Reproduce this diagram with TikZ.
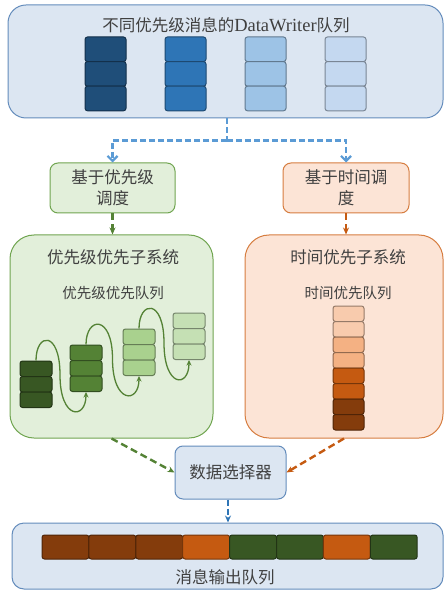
\documentclass[tikz,border=0pt]{standalone}
\usepackage{fontspec}
\setmainfont{Liberation Serif}
\newfontfamily\cjk{Noto Sans CJK SC}
\usetikzlibrary{arrows.meta,calc}
\definecolor{txt}{RGB}{64,64,64}
\definecolor{bfill}{RGB}{220,230,242}
\definecolor{bline}{RGB}{100,140,188}
\definecolor{gfill}{RGB}{226,239,218}
\definecolor{gline}{RGB}{112,165,80}
\definecolor{ofill}{RGB}{252,228,214}
\definecolor{oline}{RGB}{214,125,64}
\definecolor{navy}{RGB}{31,78,121}
\definecolor{blue2}{RGB}{46,117,182}
\definecolor{lb1}{RGB}{157,195,230}
\definecolor{lb2}{RGB}{196,216,240}
\definecolor{gd}{RGB}{56,87,35}
\definecolor{gm}{RGB}{84,130,53}
\definecolor{gl1}{RGB}{169,209,142}
\definecolor{gl2}{RGB}{197,224,180}
\definecolor{od}{RGB}{132,60,12}
\definecolor{om}{RGB}{197,90,17}
\definecolor{ol1}{RGB}{244,177,131}
\definecolor{ol2}{RGB}{248,203,173}
\definecolor{bdash}{RGB}{91,155,213}
\definecolor{bdark}{RGB}{46,117,182}
\definecolor{gdash}{RGB}{84,130,53}
\definecolor{odash}{RGB}{197,90,17}
\tikzset{
  panel/.style={line width=1pt},
  bluepanel/.style={panel, fill=bfill, draw=bline},
  greenpanel/.style={panel, fill=gfill, draw=gline},
  orangepanel/.style={panel, fill=ofill, draw=oline},
  bigtxt/.style={font=\cjk\fontsize{16.5}{21}\selectfont, text=txt, inner sep=0pt},
  smalltxt/.style={font=\cjk\fontsize{14.5}{18}\selectfont, text=txt, inner sep=0pt},
  cell/.style={rounded corners=2.5pt, line width=1pt, inner sep=0pt},
  wave/.style={draw=gm, line width=1.3pt, -{Stealth[length=5.5pt,width=5pt]}},
  bluedash/.style={draw=bdash, line width=2.2pt, dash pattern=on 6pt off 3pt},
  gdashline/.style={draw=gdash, line width=2.4pt, dash pattern=on 7pt off 4pt, -{Stealth[length=7pt,width=6pt]}},
  odashline/.style={draw=odash, line width=2.4pt, dash pattern=on 7pt off 4pt, -{Stealth[length=7pt,width=6pt]}},
}
\begin{document}
\begin{tikzpicture}[x=1pt,y=-1pt]
\useasboundingbox (0,0) rectangle (444,593);

% top panel
\node[bluepanel, rounded corners=18pt, minimum width=435pt, minimum height=113pt] (top) at (225.5,61.5) {};
\node[bigtxt] (toptitle) at (226,25) {不同优先级消息的{\rmfamily\fontsize{18.5}{21}\selectfont DataWriter}队列};
\foreach \c [count=\i] in {navy,blue2,lb1,lb2} {
  \foreach \r in {1,2,3} {
    \node[cell, fill=\c, draw=\c!62!black, minimum width=41pt, minimum height=24.6pt] (t\i\r) at ({105.5+80*(\i-1)}, {49.3+24.6*(\r-1)}) {};
  }
}

% scheduling boxes
\node[greenpanel, rounded corners=8pt, minimum width=125pt, minimum height=50pt] (gsched) at (112.5,188) {};
\node[bigtxt, align=center] (gschedt) at (gsched) {基于优先级\\调度};
\node[orangepanel, rounded corners=8pt, minimum width=126pt, minimum height=50pt] (osched) at (346,188) {};
\node[bigtxt, align=center] (oschedt) at (osched) {基于时间调\\度};

% top split connector
\coordinate (split) at ($(top.south)+(1.5,22)$);
\draw[bluedash] (top.south -| split) -- (split);
\draw[bluedash, -{Straight Barb[length=5pt,width=10pt]}] (split) -| (gsched.north);
\draw[bluedash, -{Straight Barb[length=5pt,width=10pt]}] (split) -| (osched.north);

% big subsystem boxes
\node[greenpanel, rounded corners=24pt, minimum width=203pt, minimum height=203pt] (gbox) at (111.5,336.5) {};
\node[bigtxt] (gboxt) at (113,257) {优先级优先子系统};
\node[smalltxt] (gboxs) at (113,293) {优先级优先队列};
\node[orangepanel, rounded corners=24pt, minimum width=198pt, minimum height=203pt] (obox) at (344,336.5) {};
\node[bigtxt] (oboxt) at (348,257) {时间优先子系统};
\node[smalltxt] (oboxs) at (348,293) {时间优先队列};

\draw[gdashline] (gsched.south) -- (gsched.south |- gbox.north);
\draw[odashline] (osched.south) -- (osched.south |- obox.north);

% green priority stacks
\foreach \c/\x/\t [count=\i] in {gd/36/361, gm/86/345, gl1/139/329, gl2/189/313} {
  \foreach \r in {1,2,3} {
    \node[cell, fill=\c, draw=\c!60!black, minimum width=32pt, minimum height=15.5pt] (g\i\r) at (\x, {\t+7.75+15.5*(\r-1)}) {};
  }
}
\coordinate (m1) at (60,375);
\coordinate (m2) at (112.5,359);
\coordinate (m3) at (164,343);
\draw[wave] (g11.north) .. controls +(0,-28) and +(0,-45) .. (m1) .. controls +(0,45) and +(0,28) .. (g23.south);
\draw[wave] (g21.north) .. controls +(0,-28) and +(0,-45) .. (m2) .. controls +(0,45) and +(0,28) .. (g33.south);
\draw[wave] (g31.north) .. controls +(0,-28) and +(0,-45) .. (m3) .. controls +(0,45) and +(0,28) .. (g43.south);

% orange time stack
\foreach \c [count=\r] in {ol2,ol2,ol1,ol1,om,om,od,od} {
  \node[cell, fill=\c, draw=\c!60!black, minimum width=31pt, minimum height=15.5pt] (o\r) at (348.5, {306+7.75+15.5*(\r-1)}) {};
}

% selector
\node[bluepanel, rounded corners=8pt, minimum width=111pt, minimum height=53pt] (sel) at (230.5,472.5) {};
\node[bigtxt] (selt) at (sel) {数据选择器};
\draw[gdashline] (gbox.south) -- (sel.west);
\draw[odashline] (obox.south) -- (sel.east);

% output queue
\node[bluepanel, rounded corners=12pt, minimum width=431pt, minimum height=66pt] (out) at (227.5,556) {};
\coordinate (xa) at (228,0);
\draw[draw=bdark, line width=2.4pt, dash pattern=on 6pt off 3pt, -{Stealth[length=7pt,width=6pt]}] (sel.south -| xa) -- (xa |- out.north);
\foreach \c [count=\k] in {od,od,od,om,gd,gd,om,gd} {
  \node[cell, fill=\c, draw=\c!60!black, minimum width=46.9pt, minimum height=24pt] (q\k) at ({42+23.45+46.9*(\k-1)}, 547) {};
}
\node[bigtxt] (outt) at (225,577) {消息输出队列};
\end{tikzpicture}
\end{document}
